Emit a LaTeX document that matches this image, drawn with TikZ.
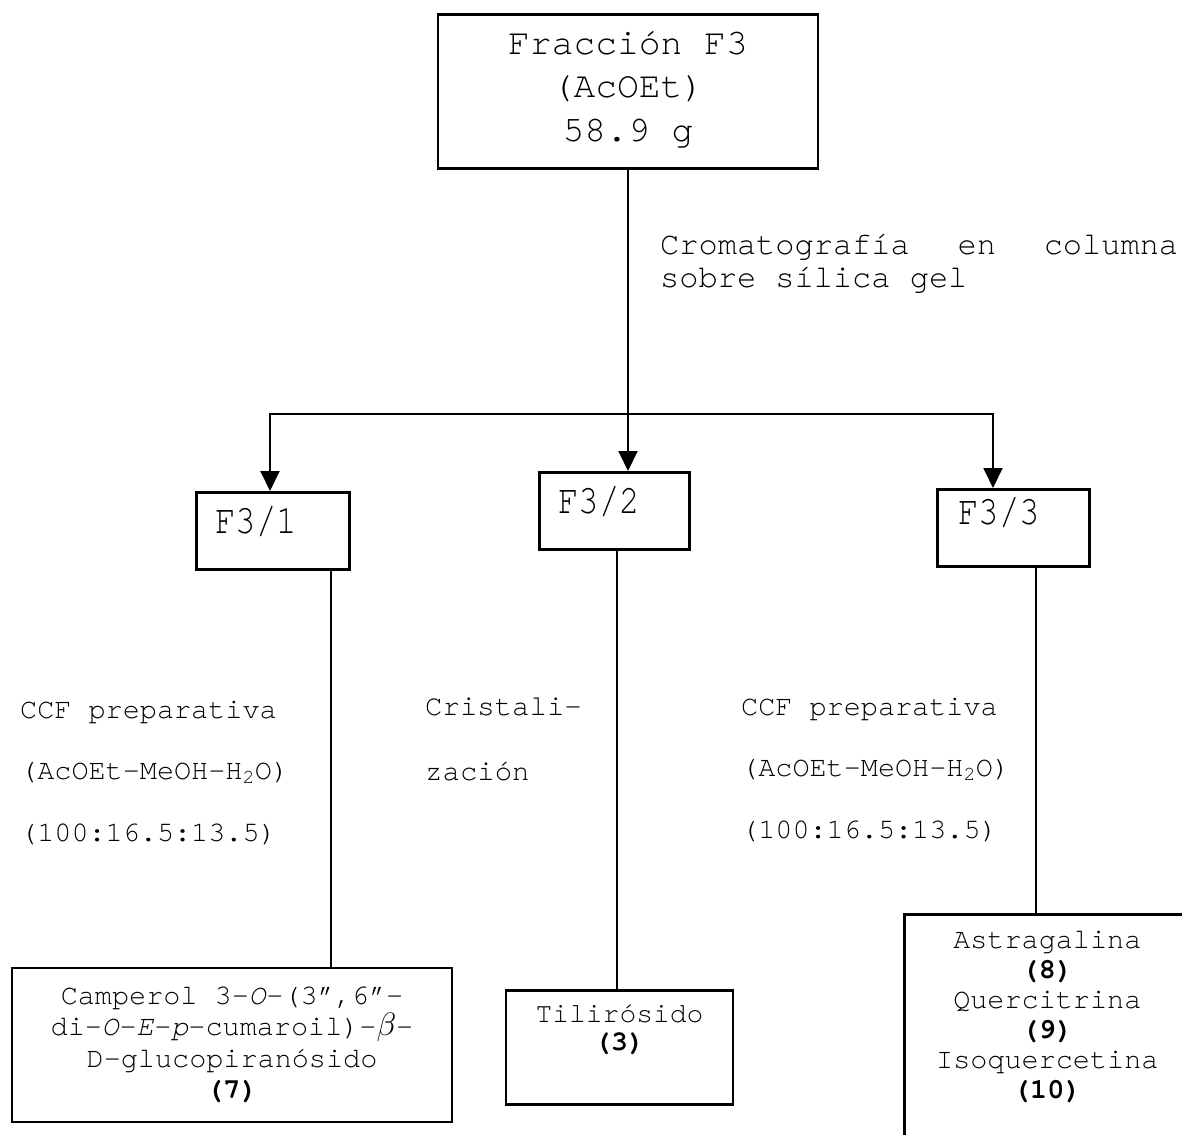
\documentclass[tikz,border=0pt]{standalone}
\usepackage{fontspec}
\usepackage{graphicx}
\usetikzlibrary{arrows.meta}
\setmainfont{texgyrecursor}[Extension=.otf,UprightFont=*-regular,
  BoldFont=*-bold,ItalicFont=*-italic,BoldItalicFont=*-bolditalic]

\newcommand{\alto}[1]{\scalebox{1}[1.2]{#1}}

\begin{document}
\begin{tikzpicture}[x=1pt,y=-1pt,
    caja/.style={draw,line width=2.6pt,inner sep=0pt},
    linea/.style={line width=2pt},
    flecha/.style={linea,-{Triangle[length=20pt,width=19pt]}},
    fraccion/.style={caja,anchor=north west,align=left,
      font=\fontsize{34}{40}\selectfont},
    etiqueta/.style={anchor=base west,align=left,inner sep=0pt},
    producto/.style={caja,align=center,font=\fontsize{28.5}{31}\selectfont}]
  \useasboundingbox (0,0) rectangle (1182,1134);
  \fill[white] (0,0) rectangle (1182,1134);

  % fracción de partida
  \node[caja,anchor=north,minimum width=380pt,align=center,
        text height=127pt,text depth=27pt,
        font=\fontsize{36.3}{43.5}\selectfont] (f3) at (628,13)
        {Fracción F3\\(AcOEt)\\58.9 g};

  % subfracciones
  \node[fraccion,inner xsep=19pt,text width=115pt,
        text height=41pt,text depth=36pt] (f31) at (195,491) {\alto{F3/1}};
  \node[fraccion,inner xsep=19pt,text width=112pt,
        text height=41pt,text depth=36pt] (f32) at (538,471) {\alto{F3/2}};
  \node[fraccion,inner xsep=21pt,text width=110pt,
        text height=35pt,text depth=42pt] (f33) at (936,488) {\alto{F3/3}};

  % textos de los procedimientos (base = última línea)
  \node[etiqueta,font=\fontsize{32}{33}\selectfont] (cc) at (660,287)
    {\hbox to 518pt{Cromatografía\hfill en\hfill columna}\\sobre sílica gel};
  \node[etiqueta,font=\fontsize{28.5}{61.5}\selectfont] (ccf1) at (20,841)
    {CCF preparativa\\(AcOEt-MeOH-H\textsubscript{2}O)\\(100:16.5:13.5)};
  \node[etiqueta,font=\fontsize{29}{65}\selectfont] (crist) at (425,780)
    {Cristali-\\zación};
  \node[etiqueta,font=\fontsize{28.5}{61.5}\selectfont] (ccf3) at (741,838)
    {CCF preparativa\\(AcOEt-MeOH-H\textsubscript{2}O)\\(100:16.5:13.5)};

  % compuestos aislados
  \node[producto,minimum width=440pt,minimum height=154pt,
        font=\fontsize{28.5}{31.5}\selectfont] (p7) at (232,1045)
    {Camperol 3-\textit{O}-(3”,6”-\\di-\textit{O}-\textit{E}-\textit{p}-cumaroil)-\scalebox{1.3}{$\beta$}-\\D-glucopiranósido\\\textbf{(7)}};
  \node[producto,anchor=north,minimum width=227pt,text height=60pt,
        text depth=54pt,font=\fontsize{28}{28}\selectfont] (p3) at (619.5,989)
    {Tilirósido\\\textbf{(3)}};
  \node[producto,anchor=north west,minimum width=286pt,text height=184pt,
        text depth=58pt,font=\fontsize{28.5}{30}\selectfont] (p810) at (903,913)
    {Astragalina\\\textbf{(8)}\\Quercitrina\\\textbf{(9)}\\Isoquercetina\\\textbf{(10)}};

  % conectores
  \coordinate (izq) at (270,414);
  \coordinate (der) at (993,414);
  \draw[flecha] (f3.south) -- (f3.south |- f32.north);
  \draw[flecha] (f3.south |- izq) -- (izq) -- (izq |- f31.north);
  \draw[flecha] (f3.south |- izq) -- (der) -- (der |- f33.north);
  \draw[linea] ([xshift=58pt]f31.south) -- ([xshift=58pt]f31.south |- p7.north);
  \draw[linea] ([xshift=3pt]f32.south) -- ([xshift=3pt]f32.south |- p3.north);
  \draw[linea] ([xshift=23pt]f33.south) -- ([xshift=23pt]f33.south |- p810.north);
\end{tikzpicture}
\end{document}
